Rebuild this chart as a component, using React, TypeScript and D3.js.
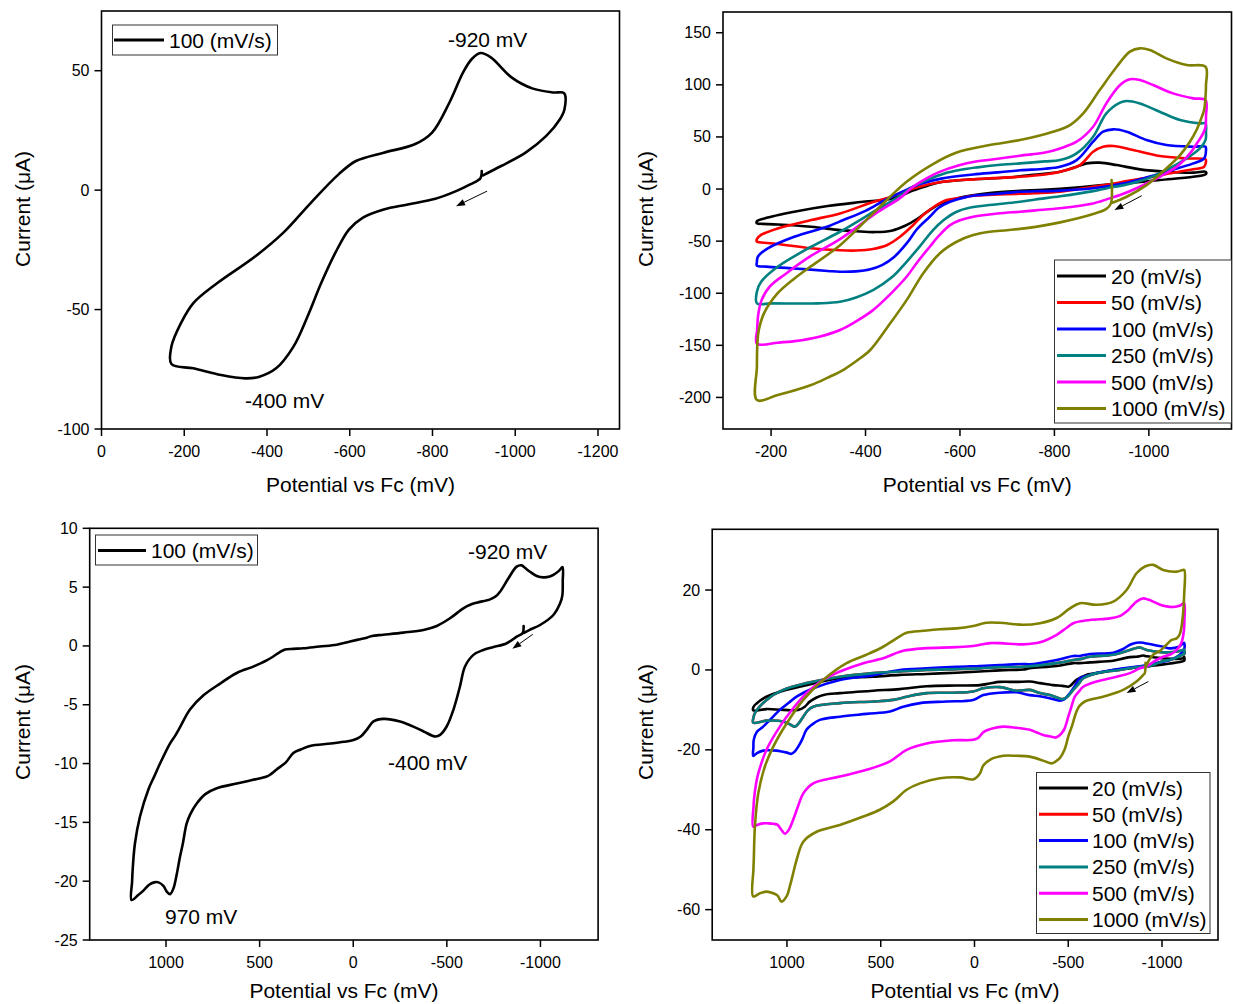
import React from 'react';
import * as d3 from 'd3';

type Pt = [number, number];

// ---------- Panel 1 (top-left): 100 mV/s, potential vs current ----------
const P1_100: Pt[] = [
  [-919, 8.0], [-916, 5.0], [-891, 2.4], [-857, -0.4], [-807, -3.6], [-740, -6.0], [-682, -8.1], [-631, -11.6],
  [-598, -16.5], [-565, -26.3], [-531, -38.9], [-498, -52.9], [-464, -65.5], [-422, -74.6], [-380, -78.2],
  [-347, -78.8], [-289, -77.4], [-222, -74.6], [-169, -72.8],
  [-169, -65.5], [-192, -55.7], [-222, -47.3], [-280, -38.9], [-372, -27.7], [-439, -17.9], [-506, -5.3],
  [-573, 6.6], [-615, 12.2], [-682, 15.7], [-757, 19.2], [-799, 24.1], [-841, 36.7], [-874, 49.3], [-895, 54.9],
  [-916, 57.4], [-941, 55.6], [-991, 47.2], [-1041, 42.6], [-1092, 40.9], [-1118, 40.6],
  [-1119, 33.9], [-1108, 29.7], [-1075, 22.7], [-1025, 15.7], [-966, 10.1], [-922, 6.2]
];
const P1_XTICKS = [0, -200, -400, -600, -800, -1000, -1200];
const P1_YTICKS = [50, 0, -50, -100];
const P1_ARROW: Pt[] = [[-932, -0.4], [-857, -6.7]];

// ---------- Panel 2 (top-right): scan-rate series ----------
const P2_20: Pt[] = [
  [-918, 4.6], [-880, 2.8], [-847, 1.4], [-776, -0.8], [-727, -1.8], [-663, -3.8], [-620, -6.5], [-594, -9],
  [-557, -14.5], [-530, -22], [-510, -28.5], [-485, -35], [-455, -40], [-420, -41.3], [-380, -40.5], [-346, -39.4],
  [-285, -36.2], [-214, -34], [-180, -33.4], [-170, -33],
  [-170, -31], [-186, -28.2], [-249, -21.8], [-320, -16.3], [-390, -12.5], [-452, -9.5], [-475, -6.5],
  [-500, -1.5], [-530, 3], [-558, 6.5], [-600, 8.5], [-640, 9.6], [-700, 11], [-741, 13], [-812, 16.6], [-847, 21.4],
  [-868, 24.6], [-896, 25.3], [-932, 23], [-981, 18.9], [-1037, 16.6], [-1094, 15.7], [-1120, 16.6],
  [-1121, 14.4], [-1094, 11.8], [-1023, 8.6], [-953, 5.4], [-924, 4.8]
];
const P2_50: Pt[] = [
  [-919, 4.5], [-882, 2.2], [-812, -2.6], [-760, -4], [-727, -4.6], [-670, -5.5], [-628, -6.5], [-600, -8.5],
  [-572, -10.6], [-545, -17], [-522, -25], [-500, -35], [-473, -45.8], [-445, -54], [-416, -57.5], [-380, -59],
  [-346, -58.8], [-285, -56.9], [-214, -52.8], [-175, -51], [-170, -50.6],
  [-170, -48], [-178, -44.2], [-214, -37.8], [-285, -29.8], [-346, -23.4], [-416, -12.5], [-450, -8], [-487, -1.5],
  [-520, 3], [-543, 5.4], [-580, 7.8], [-628, 9.3], [-670, 10.5], [-727, 11.8], [-780, 14], [-812, 16.6], [-854, 23],
  [-882, 35.8], [-903, 40.6], [-925, 41.3], [-967, 37.4], [-1023, 31.7], [-1080, 29.4], [-1120, 28.5],
  [-1121, 26.2], [-1117, 21.4], [-1094, 18.9], [-1037, 14.4], [-988, 10.2], [-945, 7], [-924, 5]
];
const P2_100: Pt[] = [
  [-920, 3.2], [-882, 0.8], [-812, -1.5], [-760, -2.2], [-727, -2.6], [-680, -4.5], [-642, -5.8], [-610, -8],
  [-579, -12.2], [-555, -18], [-536, -26.6], [-510, -38], [-487, -52.2], [-460, -65.5], [-435, -73], [-410, -77],
  [-380, -79], [-346, -79.4], [-320, -78.6], [-249, -76.2], [-190, -74.5], [-170, -73.5],
  [-170, -70], [-172, -65], [-193, -57], [-249, -45.8], [-320, -36], [-346, -31], [-400, -21], [-440, -11],
  [-485, -1], [-517, 5], [-560, 10], [-628, 14], [-680, 16], [-727, 18], [-780, 19.5], [-812, 21.4], [-847, 27.8],
  [-882, 45.4], [-903, 55], [-925, 57.3], [-953, 55], [-995, 47], [-1037, 42.2], [-1094, 40.6], [-1120, 40.6],
  [-1121, 37.4], [-1117, 29.4], [-1094, 24.6], [-1037, 16.6], [-988, 10.2], [-945, 5.2], [-925, 3.6]
];
const P2_250: Pt[] = [
  [-920, 1.8], [-882, -2], [-812, -7], [-760, -10], [-727, -12.2], [-663, -15.4], [-620, -18], [-593, -21.8],
  [-565, -30], [-543, -39.4], [-515, -55], [-487, -69.8], [-455, -85], [-416, -97], [-380, -104], [-346, -108.2],
  [-300, -109.7], [-249, -109.9], [-200, -109.7], [-170, -109.7],
  [-170, -98.5], [-179, -89], [-214, -74.6], [-285, -55.4], [-346, -41], [-420, -21], [-475, -6], [-496, 1],
  [-532, 9], [-567, 15], [-602, 18.5], [-637, 20.8], [-680, 23], [-727, 24.6], [-780, 26.5], [-812, 27.8],
  [-847, 34.2], [-882, 50.2], [-910, 72.6], [-939, 82.9], [-953, 84.5], [-981, 82.2], [-1023, 74.2], [-1066, 66.2],
  [-1108, 63], [-1120, 63],
  [-1121, 55], [-1120, 47], [-1108, 39], [-1080, 29.4], [-1037, 18.2], [-988, 8.6], [-945, 3.5], [-925, 2]
];
const P2_500: Pt[] = [
  [-920, -8.5], [-882, -13.8], [-812, -18.5], [-760, -20.5], [-727, -21.8], [-680, -23.5], [-628, -26.6],
  [-600, -30], [-579, -34.6], [-555, -45], [-536, -55.4], [-510, -70], [-487, -84.2], [-450, -102], [-416, -116.2],
  [-380, -127], [-346, -135.3], [-300, -142], [-250, -146], [-214, -147.5], [-170, -148.5],
  [-170.5, -135], [-173, -120], [-180, -106.5], [-197, -93.7], [-232, -81], [-285, -64], [-346, -48], [-420, -24],
  [-475, -8], [-500, 2], [-536, 12], [-557, 16.5], [-600, 23], [-628, 26], [-680, 29], [-727, 32], [-780, 35],
  [-812, 39], [-847, 45.4], [-882, 59.8], [-910, 82.2], [-939, 99.8], [-960, 105.3], [-981, 104.6], [-1009, 99.8],
  [-1051, 91.8], [-1094, 87], [-1120, 85.4],
  [-1121, 70], [-1120, 59.8], [-1115, 53.4], [-1104, 45.4], [-1087, 34.2], [-1059, 21.4], [-1023, 11.8],
  [-981, 2.2], [-939, -5.8], [-924, -8]
];
const P2_1000: Pt[] = [
  [-921, 8.6], [-919.5, -14], [-910, -19], [-882, -24], [-812, -32], [-741, -37.5], [-700, -39.5], [-663, -41],
  [-628, -44.2], [-593, -50.6], [-557, -61.8], [-522, -81], [-487, -106.6], [-452, -129], [-410, -154.5],
  [-390, -162], [-355, -173], [-320, -181], [-285, -188], [-214, -197.7], [-170, -202.5],
  [-170, -170.5], [-171, -148], [-174, -135.3], [-185, -119.3], [-214, -100], [-249, -86], [-285, -74], [-346, -54],
  [-416, -23.4], [-487, 7], [-543, 24], [-593, 35], [-663, 42.2], [-727, 47], [-797, 55], [-833, 61.4], [-861, 72.6],
  [-896, 95], [-932, 117.4], [-960, 131.8], [-981, 135], [-1002, 133.4], [-1037, 125.4], [-1080, 119], [-1120, 117.4],
  [-1121, 100], [-1120, 88.6], [-1117, 75.8], [-1111, 67.8], [-1101, 56.6], [-1087, 45.4], [-1066, 32.6],
  [-1037, 19.8], [-995, 3.8], [-953, -7.4], [-923, -13.1]
];
const P2_XTICKS = [-200, -400, -600, -800, -1000];
const P2_YTICKS = [150, 100, 50, 0, -50, -100, -150, -200];
const P2_ARROW: Pt[] = [[-985, -6.4], [-927, -20.2]];

// ---------- Panel 3 (bottom-left): 100 mV/s, wide window ----------
const P3_100: Pt[] = [
  [-910, 1.7], [-905, 1.1], [-873, 0.79], [-820, 0.23], [-750, -0.1], [-695, -0.34], [-642, -0.76], [-597, -1.75],
  [-570, -3.45], [-535, -5.43], [-499, -6.85], [-464, -7.56], [-440, -7.7], [-419, -7.61], [-380, -7.3], [-339, -6.99],
  [-250, -6.42], [-161, -6.2], [-108, -6.42], [-72, -7.13], [-40, -7.7], [-1, -8.0], [50, -8.15], [120, -8.3],
  [231, -8.5], [280, -8.8], [320, -9.1], [360, -9.9], [409, -10.5], [440, -10.9], [462, -11.1], [540, -11.4],
  [622, -11.7], [729, -12.1], [790, -12.6], [836, -13.4], [870, -14.3], [890, -15.1], [910, -16.8], [925, -17.9],
  [945, -19.6], [960, -20.6], [978, -21.1], [995, -20.9], [1014, -20.4], [1040, -20.1], [1064, -20.1], [1090, -20.3],
  [1121, -20.8], [1150, -21.2], [1184, -21.6],
  [1181, -20.0], [1178, -19.0], [1166, -16.8], [1139, -14.5], [1094, -12.2], [1060, -11], [1032, -10], [979, -8.3],
  [950, -7.6], [925, -6.9], [872, -5.4], [800, -4.2], [711, -3.2], [622, -2.3], [540, -1.8], [498, -1.5], [460, -1.2],
  [427, -0.9], [390, -0.5], [364, -0.3], [320, -0.25], [266, -0.2], [180, -0.05], [88, 0.1], [17, 0.37], [-30, 0.55],
  [-72, 0.7], [-100, 0.85], [-161, 0.95], [-268, 1.13], [-375, 1.36], [-446, 1.7], [-517, 2.35], [-588, 3.2],
  [-625, 3.5], [-660, 3.68], [-731, 3.96], [-760, 4.2], [-784, 4.61], [-829, 5.75], [-873, 6.74], [-900, 6.85],
  [-920, 6.6], [-944, 6.31], [-980, 5.95], [-1016, 5.83], [-1050, 5.9], [-1069, 6.03], [-1100, 6.4], [-1118, 6.7],
  [-1119, 5.5], [-1117, 4.3], [-1105, 3.62], [-1069, 2.63], [-998, 1.78], [-940, 1.35], [-912, 1.1]
];
const P3_XTICKS = [1000, 500, 0, -500, -1000];
const P3_YTICKS = [10, 5, 0, -5, -10, -15, -20, -25];
const P3_ARROW: Pt[] = [[-959, 0.99], [-850, -0.25]];

// ---------- Panel 4 (bottom-right): scan-rate series, wide window ----------
const P4_20: Pt[] = [
  [-918, 0.9], [-882, 0.8], [-830, 0.4], [-740, 0], [-680, -0.6], [-597, -1.25], [-544, -2.5], [-515, -3.8],
  [-500, -4.2], [-470, -4.0], [-420, -3.8], [-350, -3.3], [-295, -2.9], [-224, -3.0], [-135, -3.0], [-80, -3.4],
  [-29, -3.8], [96, -3.9], [256, -4.1], [398, -4.8], [540, -5.2], [718, -5.8], [800, -6.2], [842, -6.9], [880, -8],
  [905, -9.2], [940, -10], [1020, -10], [1109, -9.8], [1180, -10.1],
  [1178, -9.2], [1162, -8.4], [1109, -6.7], [1020, -5.2], [896, -3.8], [718, -2.1], [540, -1.7], [398, -1.25],
  [256, -1], [96, -0.7], [-29, -0.4], [-135, -0.1], [-260, 0.1], [-295, 0.4], [-438, 1.0], [-527, 1.7], [-562, 1.7],
  [-615, 1.9], [-740, 2.3], [-758, 2.5], [-829, 3.2], [-864, 3.3], [-900, 3.6], [-918, 3.4], [-971, 3.1],
  [-1006, 2.9], [-1110, 2.9], [-1118, 3.3],
  [-1119, 2.4], [-1113, 2.2], [-1042, 1.6], [-975, 1.2], [-928, 0.9]
];
const P4_250: Pt[] = [
  [-920, 1.0], [-882, 0.8], [-775, 0], [-651, -0.8], [-580, -2.1], [-550, -3.8], [-526, -5], [-500, -6.5],
  [-473, -7.3], [-440, -6.9], [-402, -6.3], [-349, -5.8], [-295, -5.0], [-224, -5.2], [-135, -4.3], [-47, -4.6],
  [7, -5.4], [114, -5.7], [256, -5.8], [362, -6.7], [433, -7.5], [540, -7.9], [718, -8.3], [860, -9.2], [890, -10.2],
  [913, -11.7], [940, -13.5], [958, -14.2], [985, -13.6], [1020, -12.9], [1109, -12.7], [1180, -13.2],
  [1178, -11.8], [1171, -10.8], [1109, -7.5], [1020, -5], [896, -3.3], [718, -1.7], [540, -0.8], [398, -0.4],
  [256, 0], [96, 0.2], [-29, 0.4], [-135, 0.7], [-260, 0.8], [-438, 1.7], [-527, 2.5], [-562, 2.7], [-615, 3.3],
  [-740, 3.8], [-829, 5], [-864, 5.5], [-882, 5.6], [-918, 5], [-1006, 4.4], [-1060, 4.5], [-1113, 5], [-1118, 5.1],
  [-1119, 4.0], [-1113, 3.9], [-1050, 2.6], [-1006, 2.2], [-935, 1.0], [-925, 1.0]
];
const P4_50: Pt[] = P4_250; // red trace lies hidden beneath the 250 mV/s trace
const P4_100: Pt[] = [
  [-920, 1.2], [-882, 0.9], [-793, 0.4], [-651, -0.8], [-597, -1.5], [-562, -2.1], [-535, -4], [-509, -5.8],
  [-480, -7.3], [-455, -7.7], [-402, -7.1], [-349, -6.6], [-295, -6.3], [-224, -5.6], [-135, -5.7], [-47, -6.3],
  [7, -7.5], [149, -7.9], [291, -8.3], [380, -9.2], [451, -10.4], [576, -11], [718, -11.7], [825, -12.5],
  [870, -13.8], [896, -15], [920, -17.5], [940, -19.2], [960, -20.5], [976, -21], [1000, -20.7], [1030, -20.4],
  [1056, -20.2], [1100, -20.1], [1127, -20.2], [1160, -20.8], [1180, -21.5],
  [1179, -19.5], [1177, -17.5], [1160, -15.5], [1127, -14.2], [1080, -12], [1038, -10], [990, -8.2], [949, -6.7],
  [860, -4.6], [718, -2.5], [540, -1.3], [398, 0], [256, 0.4], [96, 0.8], [-29, 1], [-135, 1.2], [-260, 1.5],
  [-295, 1.4], [-438, 2.5], [-527, 3.5], [-562, 3.5], [-615, 4.0], [-740, 4.3], [-790, 5.2], [-829, 6.3],
  [-864, 6.8], [-900, 6.8], [-918, 6.6], [-971, 6.1], [-1006, 5.8], [-1042, 5.4], [-1090, 5.8], [-1113, 6.7],
  [-1118, 6.8],
  [-1119, 5.4], [-1095, 3.8], [-1042, 2.5], [-975, 1.8], [-935, 1.3], [-925, 1.2]
];
const P4_500: Pt[] = [
  [-918, 0.8], [-882, 0.4], [-829, -0.8], [-758, -1.7], [-651, -2.9], [-580, -4.2], [-555, -5.5], [-535, -6.7],
  [-515, -9.5], [-500, -11.7], [-482, -14.5], [-464, -15.9], [-440, -16.8], [-429, -16.9], [-400, -16.6],
  [-366, -16.3], [-330, -15.6], [-295, -15], [-224, -14.5], [-154, -14.2], [-100, -14.6], [-50, -15.5], [-20, -17],
  [7, -17.5], [114, -17.6], [256, -18.4], [362, -20], [451, -22.9], [576, -25], [718, -26.7], [860, -28.4],
  [913, -30.9], [940, -34], [967, -37.5], [990, -40], [1011, -41], [1030, -40], [1050, -38.8], [1073, -38.5],
  [1100, -38.4], [1127, -38.4], [1160, -38.8], [1180, -39.2],
  [1178, -34], [1176, -32.5], [1165, -28.5], [1153, -25.9], [1109, -20], [1038, -14.2], [967, -9.6], [896, -5.8],
  [807, -2.5], [718, -0.4], [593, 1.7], [487, 2.9], [430, 4], [380, 4.8], [273, 5.4], [96, 5.7], [7, 6], [-82, 6.7],
  [-135, 6.7], [-260, 6.4], [-349, 6.9], [-438, 8.8], [-490, 10.5], [-527, 11.7], [-615, 12.5], [-722, 12.9],
  [-780, 13.6], [-811, 14.6], [-840, 16], [-864, 17.1], [-900, 17.9], [-925, 17.6], [-953, 17.1], [-990, 16.3],
  [-1024, 15.9], [-1070, 15.8], [-1100, 16.2], [-1118, 16.7],
  [-1119, 12], [-1117, 10], [-1105, 7.0], [-1087, 5.5], [-1051, 4], [-1006, 3.3], [-960, 2.2], [-930, 1.2]
];
const P4_1000: Pt[] = [
  [-912, 1.8], [-908, -0.8], [-900, -1.25], [-864, -2.9], [-793, -5], [-686, -6.7], [-589, -7.9], [-560, -9],
  [-544, -10.4], [-520, -14], [-500, -16.7], [-480, -20], [-455, -22.1], [-430, -23], [-411, -23.4], [-366, -22.7],
  [-295, -21.7], [-224, -21.5], [-154, -21.5], [-82, -22.5], [-46, -24], [-29, -25.9], [7, -27.4], [78, -26.9],
  [185, -27.1], [291, -28.4], [362, -30], [433, -32.9], [505, -35], [593, -36.7], [718, -38.8], [842, -40.5],
  [913, -43], [949, -47.6], [970, -51.5], [985, -54.2], [1000, -56.5], [1029, -58], [1050, -56.5], [1073, -55.9],
  [1109, -55.5], [1144, -55.9], [1180, -56.7],
  [1179, -50], [1177, -47.6], [1171, -39.2], [1153, -30.9], [1118, -24.2], [1073, -19.2], [1002, -13.4],
  [913, -7.5], [807, -2.5], [682, 1.7], [576, 3.8], [487, 5.8], [416, 7.9], [362, 9.3], [273, 9.8], [185, 10.2],
  [96, 10.4], [7, 11], [-64, 11.8], [-135, 11.8], [-260, 11.3], [-349, 11.7], [-438, 13], [-509, 15.4],
  [-562, 16.7], [-651, 16.3], [-740, 17.1], [-811, 20], [-864, 24.2], [-909, 25.9], [-953, 26.3], [-1006, 25],
  [-1078, 24.6], [-1110, 25], [-1119, 25],
  [-1118, 18.8], [-1110, 13], [-1095, 9], [-1078, 7.9], [-1051, 7.5], [-1024, 6.3], [-990, 4.8], [-953, 3.8],
  [-930, 2.4], [-918, 1.2]
];
const P4_XTICKS = [1000, 500, 0, -500, -1000];
const P4_YTICKS = [20, 0, -20, -40, -60];
const P4_ARROW: Pt[] = [[-927, -2.9], [-811, -5.8]];

const RATE_LABELS = ['20 (mV/s)', '50 (mV/s)', '100 (mV/s)', '250 (mV/s)', '500 (mV/s)', '1000 (mV/s)'];
const RATE_COLORS = ['#000000', '#ff0000', '#0000ff', '#008080', '#ff00ff', '#808000'];
const SINGLE_LABEL = ['100 (mV/s)'];

const X_TITLE = 'Potential vs Fc (mV)';
const Y_TITLE = 'Current (\u03bcA)';

const FONT = '"Liberation Sans", Arial, Helvetica, sans-serif';

interface Box { x0: number; x1: number; y0: number; y1: number; }
interface Note { text: string; x: number; y: number; }
interface LegendSpec { x0: number; y0: number; w: number; h: number; rows: number[]; lineX0: number; lineX1: number; textX: number; }

interface PanelProps {
  box: Box;
  xDomain: [number, number];
  yDomain: [number, number];
  xTicks: number[];
  yTicks: number[];
  series: Pt[][];
  colors: string[];
  labels: string[];
  legend: LegendSpec;
  drawOrder?: number[];
  notes: Note[];
  arrow: Pt[];
  yTitleY: number;
  yTitleX: number;
  xTitleY: number;
}

function Panel(p: PanelProps) {
  const { box } = p;
  const x = d3.scaleLinear().domain(p.xDomain).range([box.x0, box.x1]);
  const y = d3.scaleLinear().domain(p.yDomain).range([box.y1, box.y0]);
  const line = d3.line<Pt>().x(d => x(d[0])).y(d => y(d[1])).curve(d3.curveCatmullRom.alpha(0.5));
  const order = p.drawOrder ?? p.series.map((_, i) => i);
  const tick = 7;

  const ax0 = x(p.arrow[0][0]), ay0 = y(p.arrow[0][1]);
  const ax1 = x(p.arrow[1][0]), ay1 = y(p.arrow[1][1]);
  const ang = Math.atan2(ay1 - ay0, ax1 - ax0);
  const hl = 9, hw = 3.3;
  const bx = ax1 - hl * Math.cos(ang), by = ay1 - hl * Math.sin(ang);
  const head = `${ax1},${ay1} ${bx + hw * Math.sin(ang)},${by - hw * Math.cos(ang)} ${bx - hw * Math.sin(ang)},${by + hw * Math.cos(ang)}`;

  const lg = p.legend;

  return (
    <g>
      {order.map(i => (
        <path key={i} d={line(p.series[i]) ?? ''} fill="none" stroke={p.colors[i]} strokeWidth={2.6}
          strokeLinejoin="round" strokeLinecap="round" />
      ))}
      <line x1={ax0} y1={ay0} x2={bx} y2={by} stroke="#000" strokeWidth={1} />
      <polygon points={head} fill="#000" />

      <rect x={box.x0} y={box.y0} width={box.x1 - box.x0} height={box.y1 - box.y0} fill="none" stroke="#000" strokeWidth={1.6} />

      {p.xTicks.map(t => (
        <g key={'x' + t}>
          <line x1={x(t)} x2={x(t)} y1={box.y1} y2={box.y1 + tick} stroke="#000" strokeWidth={1.5} />
          <text x={x(t)} y={box.y1 + 22} textAnchor="middle" dominantBaseline="central" fontSize={16} fontFamily={FONT}>{String(t)}</text>
        </g>
      ))}
      {p.yTicks.map(t => (
        <g key={'y' + t}>
          <line x1={box.x0 - tick} x2={box.x0} y1={y(t)} y2={y(t)} stroke="#000" strokeWidth={1.5} />
          <text x={box.x0 - 12} y={y(t)} textAnchor="end" dominantBaseline="central" fontSize={16} fontFamily={FONT}>{String(t)}</text>
        </g>
      ))}

      <text x={(box.x0 + box.x1) / 2} y={p.xTitleY} textAnchor="middle" dominantBaseline="central" fontSize={21} fontFamily={FONT}>{X_TITLE}</text>
      <text transform={`translate(${p.yTitleX},${p.yTitleY}) rotate(-90)`} textAnchor="middle" dominantBaseline="central" fontSize={21} fontFamily={FONT}>{Y_TITLE}</text>

      <rect x={lg.x0} y={lg.y0} width={lg.w} height={lg.h} fill="#fff" stroke="#333" strokeWidth={1} />
      {p.labels.map((lab, i) => (
        <g key={'l' + i}>
          <line x1={lg.lineX0} x2={lg.lineX1} y1={lg.rows[i]} y2={lg.rows[i]} stroke={p.colors[i]} strokeWidth={3} />
          <text x={lg.textX} y={lg.rows[i]} dominantBaseline="central" fontSize={21} fontFamily={FONT}>{lab}</text>
        </g>
      ))}

      {p.notes.map((n, i) => (
        <text key={'n' + i} x={n.x} y={n.y} dominantBaseline="central" fontSize={21} fontFamily={FONT}>{n.text}</text>
      ))}
    </g>
  );
}

export default function App() {
  const p2Rows = [276, 302.5, 329, 355.5, 382, 408.5];
  const p4Rows = [788, 814.3, 840.6, 866.9, 893.2, 919.5];
  return (
    <svg width={1233} height={1004} style={{ position: 'absolute', left: 0, top: 0, background: '#fff' }}
      xmlns="http://www.w3.org/2000/svg">
      <rect x={0} y={0} width={1233} height={1004} fill="#fff" />
      <Panel
        box={{ x0: 101.5, x1: 619.5, y0: 11, y1: 429 }}
        xDomain={[0, -1252]} yDomain={[-100, 75]}
        xTicks={P1_XTICKS} yTicks={P1_YTICKS}
        series={[P1_100]} colors={['#000000']} labels={SINGLE_LABEL}
        legend={{ x0: 112.5, y0: 25, w: 165, h: 30, rows: [40], lineX0: 114, lineX1: 164, textX: 169 }}
        notes={[{ text: '-920 mV', x: 448, y: 39 }, { text: '-400 mV', x: 245, y: 400 }]}
        arrow={P1_ARROW} yTitleX={22} yTitleY={209} xTitleY={484}
      />
      <Panel
        box={{ x0: 723, x1: 1231.5, y0: 12, y1: 429 }}
        xDomain={[-98.2, -1175]} yDomain={[-230.3, 169.9]}
        xTicks={P2_XTICKS} yTicks={P2_YTICKS}
        series={[P2_20, P2_50, P2_100, P2_250, P2_500, P2_1000]} colors={RATE_COLORS} labels={RATE_LABELS}
        legend={{ x0: 1054.5, y0: 260, w: 177, h: 163, rows: p2Rows, lineX0: 1057, lineX1: 1106, textX: 1111 }}
        notes={[]}
        arrow={P2_ARROW} yTitleX={645} yTitleY={209} xTitleY={484}
      />
      <Panel
        box={{ x0: 89.7, x1: 598.1, y0: 528.3, y1: 940 }}
        xDomain={[1407.6, -1307.9]} yDomain={[-25, 10]}
        xTicks={P3_XTICKS} yTicks={P3_YTICKS}
        series={[P3_100]} colors={['#000000']} labels={SINGLE_LABEL}
        legend={{ x0: 95.5, y0: 535, w: 162, h: 30, rows: [550.5], lineX0: 98, lineX1: 146, textX: 151 }}
        notes={[{ text: '-920 mV', x: 468, y: 551 }, { text: '-400 mV', x: 388, y: 762 }, { text: '970 mV', x: 165, y: 916 }]}
        arrow={P3_ARROW} yTitleX={22} yTitleY={722} xTitleY={990}
      />
      <Panel
        box={{ x0: 712.2, x1: 1218, y0: 529.3, y1: 940 }}
        xDomain={[1398.7, -1298.5]} yDomain={[-67.6, 35.2]}
        xTicks={P4_XTICKS} yTicks={P4_YTICKS}
        series={[P4_20, P4_50, P4_100, P4_250, P4_500, P4_1000]} colors={RATE_COLORS} labels={RATE_LABELS}
        drawOrder={[1, 0, 2, 3, 4, 5]}
        legend={{ x0: 1036.5, y0: 772.5, w: 173.5, h: 161, rows: p4Rows, lineX0: 1039, lineX1: 1088, textX: 1092 }}
        notes={[]}
        arrow={P4_ARROW} yTitleX={645} yTitleY={722} xTitleY={990}
      />
    </svg>
  );
}
